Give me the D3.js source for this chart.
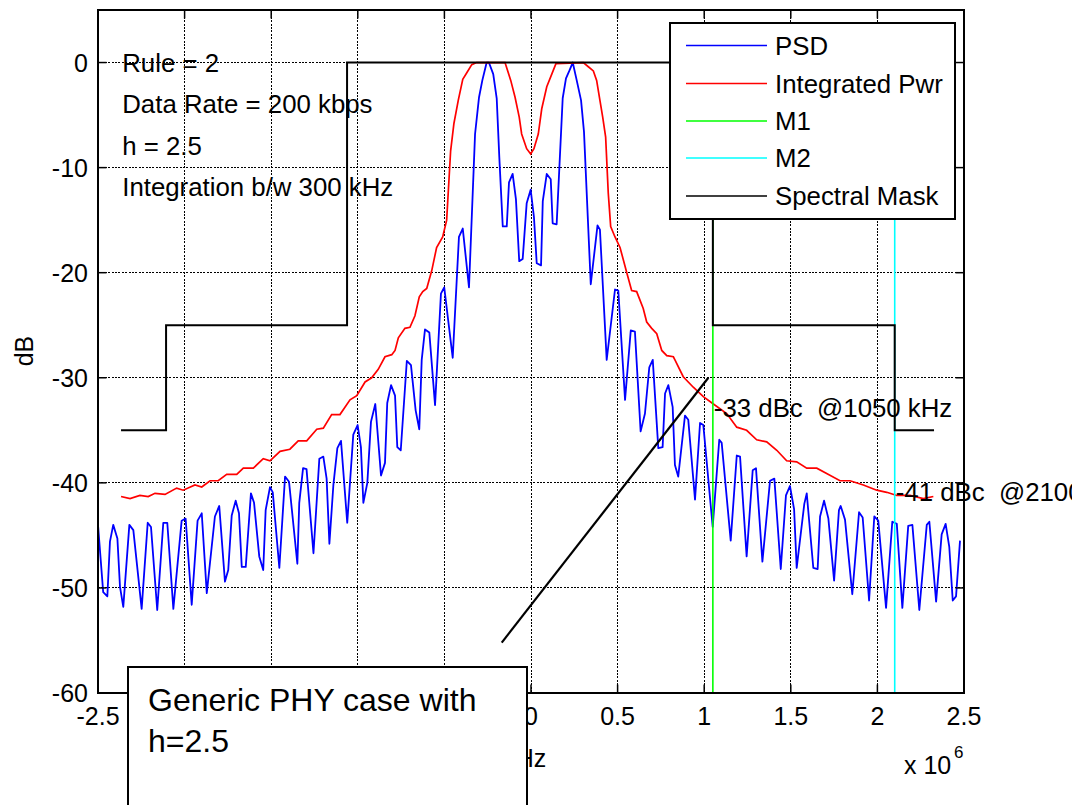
<!DOCTYPE html>
<html><head><meta charset="utf-8">
<script src="https://cdn.jsdelivr.net/npm/d3@7"></script>
<style>
body{margin:0;background:#fff;}
svg{display:block;}
text{font-family:"Liberation Sans",Arial,Helvetica,sans-serif;fill:#000;}
</style>
</head><body>
<svg id="chart" width="1072" height="805"></svg>
<script>
// ---------- data (frequency in kHz, level in dB) ----------
const xTickValues = [-2500,-2000,-1500,-1000,-500,0,500,1000,1500,2000,2500];
const xTickLabels = ["-2.5","-2","-1.5","-1","-0.5","0","0.5","1","1.5","2","2.5"];
const yTickValues = [-60,-50,-40,-30,-20,-10,0];
const yTickLabels = ["-60","-50","-40","-30","-20","-10","0"];

const psd = [[-2500,-44.0],[-2470,-50.4],[-2446,-50.8],[-2431,-45.6],[-2412,-44.0],[-2388,-45.3],[-2373,-49.9],[-2354,-51.8],[-2319,-44.0],[-2296,-44.5],[-2248,-52.0],[-2213,-43.8],[-2194,-44.2],[-2158,-52.1],[-2123,-43.8],[-2100,-43.8],[-2065,-52.0],[-2017,-43.6],[-1994,-43.4],[-1959,-51.6],[-1925,-43.6],[-1901,-42.9],[-1872,-50.5],[-1825,-43.2],[-1800,-42.2],[-1767,-49.4],[-1748,-48.3],[-1728,-43.1],[-1705,-41.7],[-1686,-42.9],[-1670,-48.0],[-1647,-48.0],[-1617,-41.0],[-1599,-41.9],[-1569,-47.0],[-1546,-48.3],[-1532,-42.6],[-1507,-40.4],[-1491,-40.9],[-1453,-48.1],[-1420,-39.4],[-1397,-39.9],[-1349,-47.7],[-1338,-41.9],[-1316,-38.6],[-1296,-38.7],[-1256,-46.7],[-1222,-37.7],[-1199,-37.5],[-1180,-39.6],[-1164,-45.8],[-1141,-40.2],[-1118,-36.7],[-1097,-36.0],[-1061,-43.8],[-1026,-35.4],[-1001,-34.5],[-982,-36.6],[-968,-41.9],[-945,-40.0],[-924,-34.2],[-899,-32.5],[-866,-39.3],[-843,-38.1],[-830,-32.4],[-808,-30.7],[-785,-31.7],[-772,-36.6],[-752,-36.9],[-717,-28.4],[-693,-28.8],[-666,-33.1],[-645,-34.9],[-631,-28.3],[-612,-25.4],[-587,-25.7],[-554,-32.6],[-520,-22.0],[-501,-21.4],[-452,-28.1],[-416,-16.6],[-394,-15.8],[-358,-21.4],[-323,-6.8],[-300,-3.3],[-281,-1.7],[-256,0],[-243,0],[-218,-1.1],[-198,-3.4],[-183,-9.0],[-163,-15.6],[-140,-15.6],[-127,-11.4],[-106,-10.6],[-87,-13.0],[-68,-18.9],[-48,-18.7],[-25,-13.4],[-2,-12.1],[17,-14.7],[33,-19.1],[58,-19.3],[68,-13.2],[91,-10.6],[114,-11.1],[125,-15.3],[148,-15.4],[183,-3.4],[202,-1.5],[221,-0.8],[241,0],[264,-1.7],[289,-3.6],[306,-6.6],[345,-21.1],[384,-15.5],[398,-15.9],[437,-28.3],[485,-21.6],[504,-21.7],[543,-32.1],[576,-25.5],[600,-25.6],[633,-35.1],[658,-33.4],[683,-29.0],[703,-28.3],[735,-36.7],[760,-36.6],[774,-31.5],[793,-30.7],[818,-32.8],[831,-38.3],[850,-39.4],[889,-33.6],[908,-34.0],[947,-41.6],[976,-34.3],[995,-34.5],[1049,-44.2],[1087,-35.9],[1101,-36.2],[1153,-45.5],[1188,-37.4],[1207,-37.5],[1245,-47.0],[1280,-38.8],[1299,-38.6],[1336,-47.5],[1380,-39.8],[1405,-39.6],[1442,-48.2],[1472,-41.2],[1495,-40.3],[1519,-42.5],[1534,-48.1],[1578,-42.0],[1592,-41.0],[1630,-48.1],[1655,-48.2],[1669,-43.2],[1692,-41.7],[1717,-43.4],[1750,-49.3],[1778,-42.6],[1788,-42.2],[1813,-43.5],[1855,-50.6],[1894,-42.8],[1915,-43.3],[1952,-51.2],[1982,-43.2],[2005,-43.6],[2050,-51.9],[2086,-43.7],[2112,-43.9],[2144,-51.9],[2178,-44.1],[2202,-44.0],[2242,-52.1],[2285,-44.0],[2300,-43.7],[2339,-51.3],[2371,-44.9],[2394,-43.9],[2415,-46.1],[2435,-51.2],[2454,-50.8],[2477,-45.5]];

const integratedPwr = [[-2367,-41.3],[-2315,-41.5],[-2258,-41.2],[-2210,-41.3],[-2171,-41.0],[-2113,-41.1],[-2046,-40.5],[-2008,-40.7],[-1940,-40.2],[-1901,-40.4],[-1853,-39.8],[-1806,-39.8],[-1757,-39.2],[-1699,-39.2],[-1661,-38.6],[-1603,-38.6],[-1546,-37.7],[-1507,-37.9],[-1449,-37.0],[-1392,-36.8],[-1344,-36.0],[-1295,-36.0],[-1237,-34.9],[-1199,-34.8],[-1151,-33.5],[-1103,-33.5],[-1045,-32.1],[-1006,-31.7],[-958,-30.4],[-920,-30.0],[-882,-29.2],[-843,-28.0],[-804,-27.8],[-785,-27.4],[-766,-26.2],[-728,-25.3],[-699,-25.2],[-670,-24.1],[-645,-22.3],[-625,-21.8],[-602,-21.5],[-573,-19.8],[-545,-17.6],[-510,-16.6],[-487,-15.0],[-464,-8.4],[-445,-5.8],[-420,-3.6],[-394,-1.6],[-368,-0.9],[-342,-0.2],[-314,0],[-150,0],[-117,-1.7],[-92,-3.3],[-68,-5.2],[-54,-6.8],[-25,-8.2],[-2,-8.7],[17,-8.2],[42,-6.8],[62,-4.4],[91,-2.3],[120,-1.1],[144,-0.1],[302,0],[331,-0.4],[360,-0.8],[379,-1.7],[398,-3.6],[414,-5.2],[431,-7.1],[446,-12.4],[460,-15.6],[485,-16.6],[514,-17.6],[553,-20.0],[581,-21.7],[610,-21.8],[648,-23.4],[668,-24.7],[697,-25.3],[726,-25.8],[755,-27.4],[784,-27.9],[822,-28.0],[831,-28.3],[879,-29.9],[937,-30.9],[995,-31.8],[1053,-32.5],[1130,-33.4],[1188,-34.7],[1245,-35.0],[1303,-35.9],[1361,-36.1],[1419,-36.9],[1476,-37.9],[1534,-38.0],[1592,-38.6],[1650,-38.6],[1707,-39.1],[1784,-39.8],[1842,-39.8],[1919,-40.2],[1996,-40.7],[2054,-40.9],[2112,-41.2],[2188,-41.2],[2265,-41.5],[2323,-41.3]];

const spectralMask = [[-2367,-35],[-2107,-35],[-2107,-25],[-1062,-25],[-1062,0],[1050,0],[1050,-25],[2100,-25],[2100,-35],[2327,-35]];
const markerM1 = [[1050,-60],[1050,0]];
const markerM2 = [[2100,-60],[2100,0]];
const pointerLine = [[-169,-55.2],[1024,-30]];

const seriesNames  = ["PSD","Integrated Pwr","M1","M2","Spectral Mask"];
const seriesColors = ["#0000ff","#ff0000","#00ff00","#00ffff","#000000"];

const infoLines = ["Rule = 2","Data Rate = 200 kbps","h = 2.5","Integration b/w 300 kHz"];
const markerNotes = [{f:1050, db:-33, text:"-33 dBc  @1050 kHz"},{f:2100, db:-41, text:"-41 dBc  @2100 kHz"}];
const boxLines = ["Generic PHY case with","h=2.5"];
const yLabel = "dB", xLabel = "Hz";

// ---------- layout ----------
const L = 98, R = 964, T = 10, B = 693;
const svg = d3.select("#chart");
const x = d3.scaleLinear().domain([-2500,2500]).range([L,R]);
const y = d3.scaleLinear().domain([-60,5]).range([B,T]);
const FS = 25, FT = 25.8;

// grid
const grid = svg.append("g").attr("stroke","#000").attr("stroke-width",1).attr("stroke-dasharray","2,1.4").attr("shape-rendering","crispEdges");
xTickValues.forEach(v=>grid.append("line").attr("x1",x(v)).attr("x2",x(v)).attr("y1",T).attr("y2",B));
yTickValues.forEach(v=>grid.append("line").attr("x1",L).attr("x2",R).attr("y1",y(v)).attr("y2",y(v)));

const line = d3.line().x(d=>x(d[0])).y(d=>y(d[1]));
svg.append("clipPath").attr("id","pc").append("rect").attr("x",L).attr("y",T).attr("width",R-L).attr("height",B-T);
const plot = svg.append("g").attr("clip-path","url(#pc)").attr("fill","none");
plot.append("path").datum(psd).attr("d",line).attr("stroke",seriesColors[0]).attr("stroke-width",1.8).attr("stroke-linejoin","round");
plot.append("path").datum(integratedPwr).attr("d",line).attr("stroke",seriesColors[1]).attr("stroke-width",1.7);
plot.append("path").datum(markerM1).attr("d",line).attr("stroke",seriesColors[2]).attr("stroke-width",1.6);
plot.append("path").datum(markerM2).attr("d",line).attr("stroke",seriesColors[3]).attr("stroke-width",1.6);
plot.append("path").datum(spectralMask).attr("d",line).attr("stroke",seriesColors[4]).attr("stroke-width",2);
svg.append("path").datum(pointerLine).attr("d",line).attr("fill","none").attr("stroke","#000").attr("stroke-width",2.2);

// axes box
svg.append("rect").attr("x",L).attr("y",T).attr("width",R-L).attr("height",B-T).attr("fill","none").attr("stroke","#000").attr("stroke-width",2);
const tk = 8.5;
const ticks = svg.append("g").attr("stroke","#000").attr("stroke-width",1.5);
xTickValues.forEach(v=>{
  ticks.append("line").attr("x1",x(v)).attr("x2",x(v)).attr("y1",B).attr("y2",B-tk);
  ticks.append("line").attr("x1",x(v)).attr("x2",x(v)).attr("y1",T).attr("y2",T+tk);
});
yTickValues.forEach(v=>{
  ticks.append("line").attr("x1",L).attr("x2",L+tk).attr("y1",y(v)).attr("y2",y(v));
  ticks.append("line").attr("x1",R).attr("x2",R-tk).attr("y1",y(v)).attr("y2",y(v));
});
// tick labels
xTickValues.forEach((v,i)=>svg.append("text").attr("x",x(v)).attr("y",B+32).attr("text-anchor","middle").attr("font-size",FS).text(xTickLabels[i]));
yTickValues.forEach((v,i)=>svg.append("text").attr("x",L-10).attr("y",y(v)+9).attr("text-anchor","end").attr("font-size",FS).text(yTickLabels[i]));
svg.append("text").attr("x",904).attr("y",774).attr("font-size",FS).text("x 10");
svg.append("text").attr("x",954).attr("y",758).attr("font-size",17).text("6");
svg.append("text").attr("transform","translate(33,351) rotate(-90)").attr("text-anchor","middle").attr("font-size",FS).text(yLabel);
svg.append("text").attr("x",x(0)).attr("y",767).attr("text-anchor","middle").attr("font-size",FS).text(xLabel);

// in-plot texts
infoLines.forEach((t,i)=>svg.append("text").attr("x",x(-2360)).attr("y",y(0)+9.5+i*41.3).attr("font-size",FT).text(t));
markerNotes.forEach(m=>svg.append("text").attr("x",x(m.f)+1).attr("y",y(m.db)+7.5).attr("font-size",FT).style("white-space","pre").text(m.text));

// legend
const lg = svg.append("g");
lg.append("rect").attr("x",670).attr("y",23).attr("width",285).attr("height",196).attr("fill","#fff").attr("stroke","#000").attr("stroke-width",2);
const rowsY = [45.5,83.5,121,158,196];
seriesNames.forEach((n,i)=>{
  lg.append("line").attr("x1",686).attr("x2",767).attr("y1",rowsY[i]).attr("y2",rowsY[i]).attr("stroke",seriesColors[i]).attr("stroke-width",1.6);
  lg.append("text").attr("x",775).attr("y",rowsY[i]+9).attr("font-size",FT).text(n);
});

// annotation box
const bx = svg.append("g");
bx.append("rect").attr("x",128).attr("y",667).attr("width",399).attr("height",160).attr("fill","#fff").attr("stroke","#000").attr("stroke-width",2);
boxLines.forEach((t,i)=>bx.append("text").attr("x",148).attr("y",711+i*41).attr("font-size",32).text(t));
</script>
</body></html>
